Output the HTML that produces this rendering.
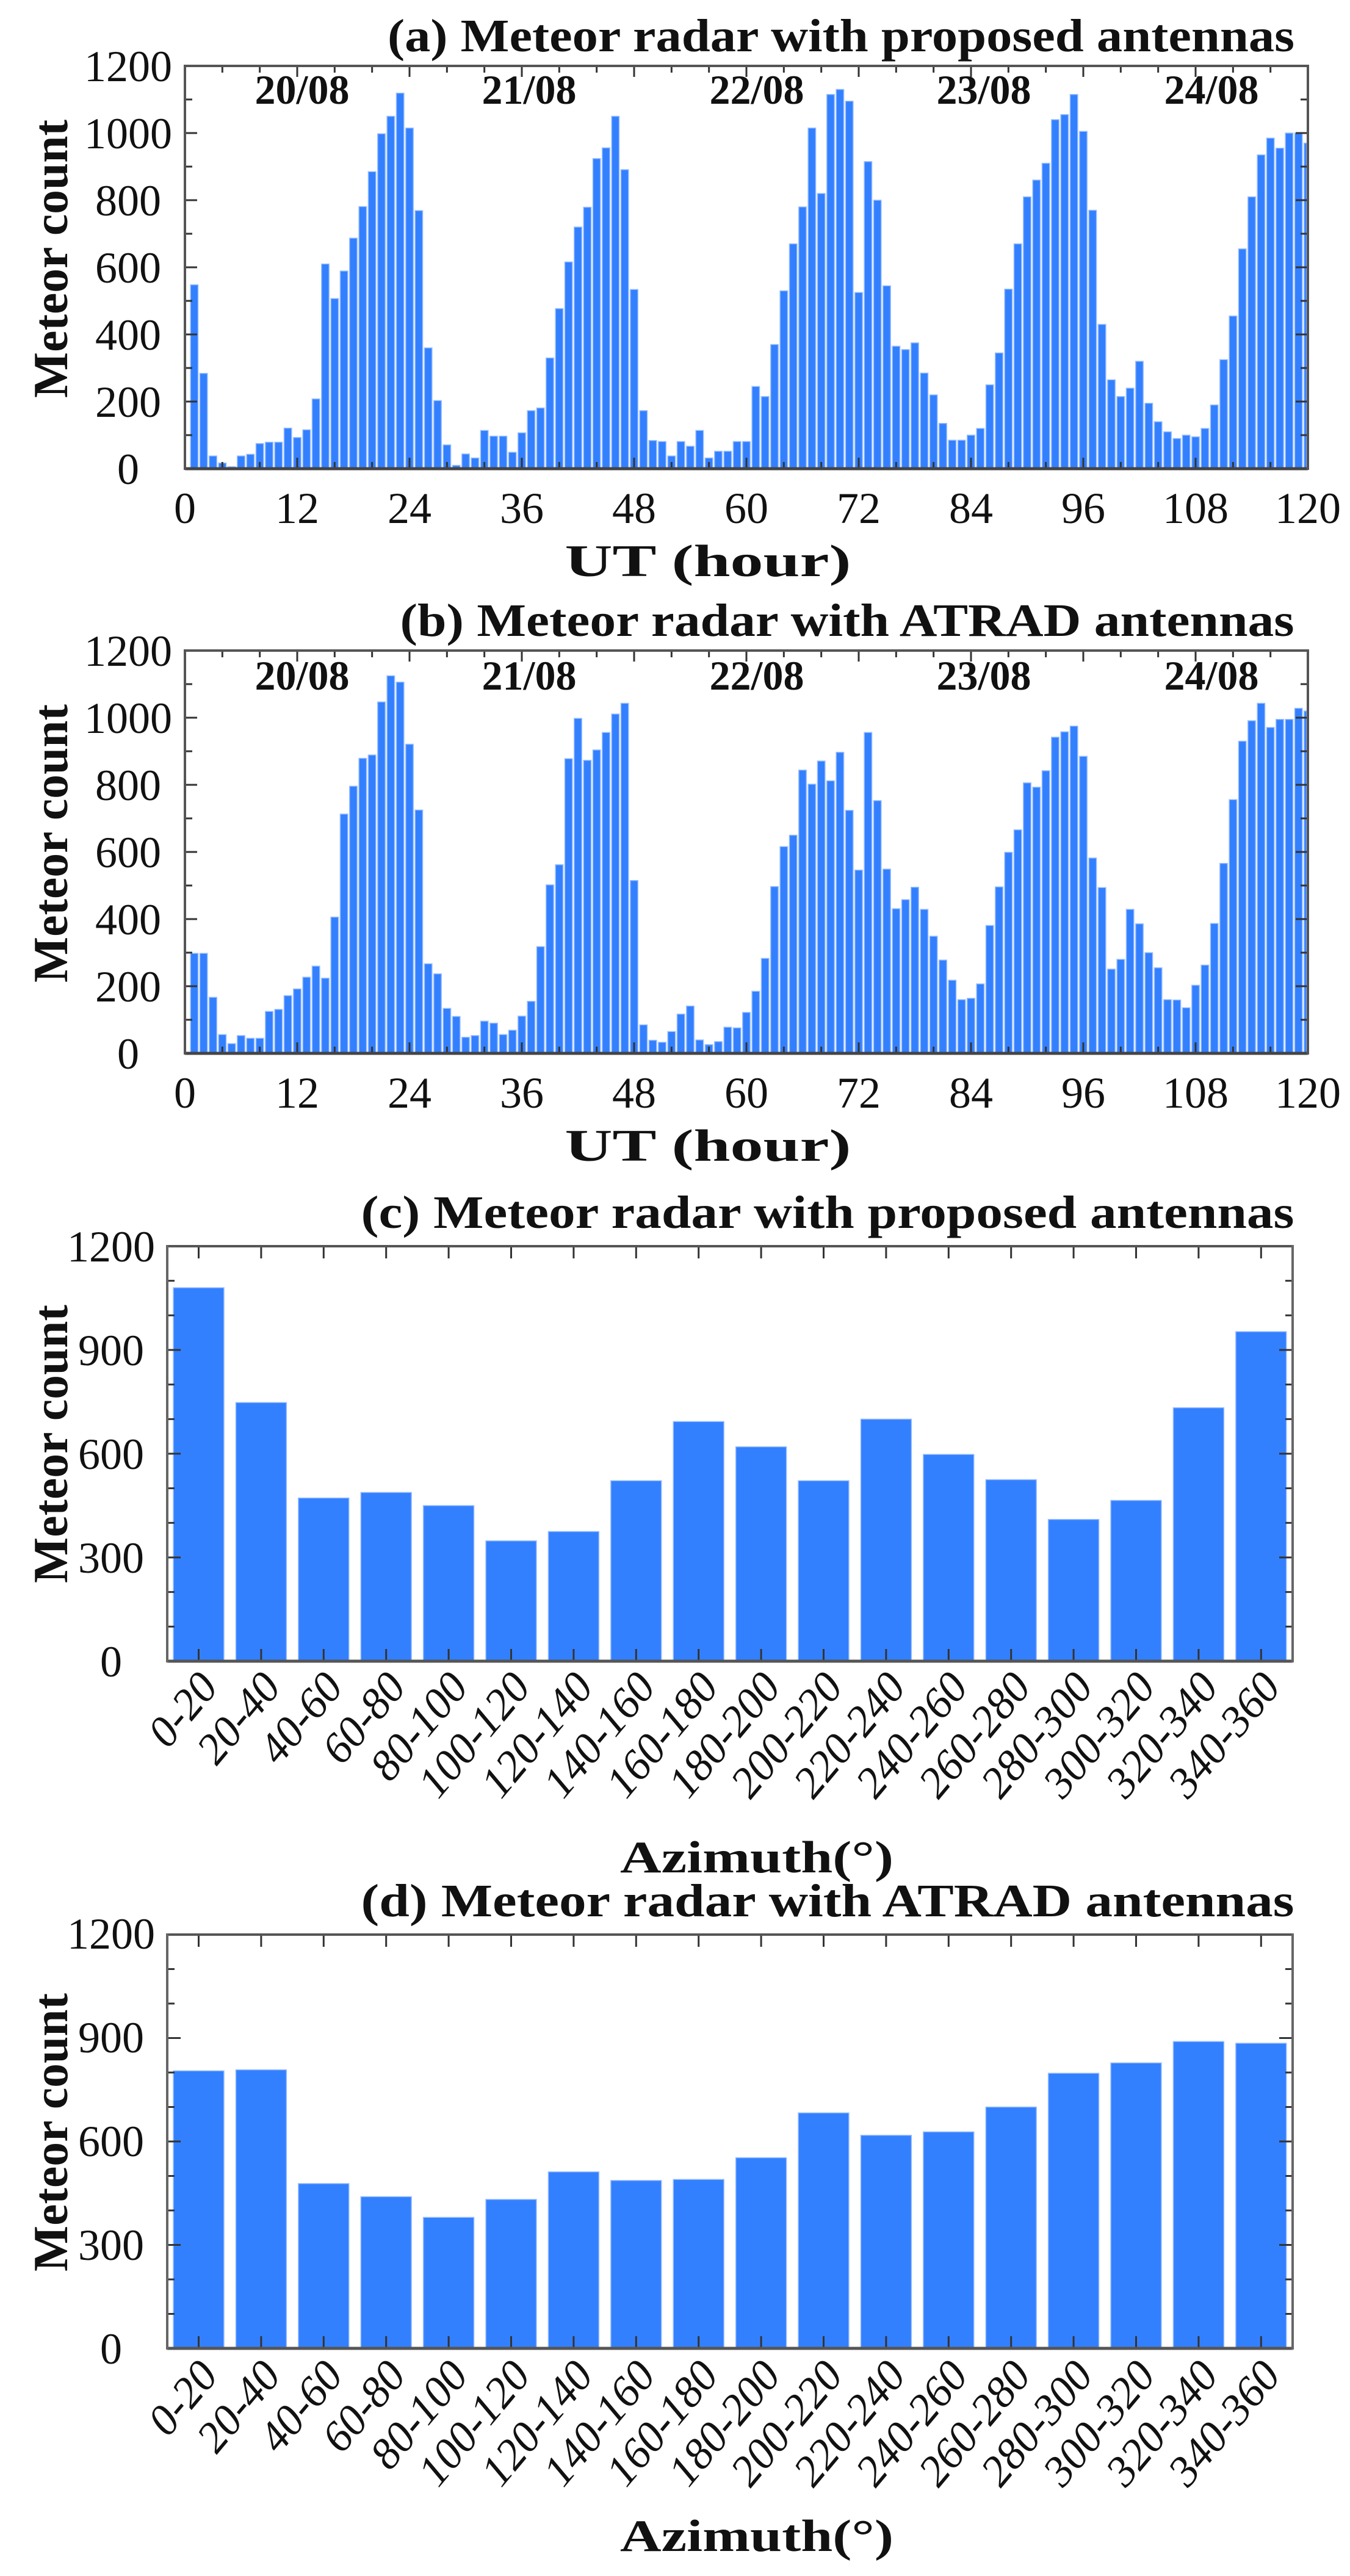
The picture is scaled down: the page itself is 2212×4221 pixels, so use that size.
<!DOCTYPE html>
<html><head><meta charset="utf-8"><style>
html,body{margin:0;padding:0;background:#fff}
svg{display:block}
text{font-family:"Liberation Serif",serif;fill:#111}
.t{font-weight:bold;font-size:76px}
.yl{font-size:72px;text-anchor:middle}
.xl{font-size:72px;text-anchor:middle}
.ax{font-weight:bold;font-size:74px;text-anchor:middle}
.mc{font-weight:bold;font-size:80px;text-anchor:middle}
.dt{font-weight:bold;font-size:68px;text-anchor:middle}
.rl{font-size:72px;font-style:italic;text-anchor:end}
</style></head><body>
<svg id="s" width="2212" height="4221" viewBox="0 0 2212 4221" xmlns="http://www.w3.org/2000/svg">
<rect width="2212" height="4221" fill="#fff"/>
<g id="bars"></g>
<g id="ticks" stroke="#333" fill="none"></g>

<!-- (a) -->
<text class="t" x="1378" y="84" text-anchor="middle" textLength="1486" lengthAdjust="spacingAndGlyphs">(a) Meteor radar with proposed antennas</text>
<text class="yl" x="210" y="793">0</text><text class="yl" x="210" y="683">200</text><text class="yl" x="210" y="573">400</text><text class="yl" x="210" y="463">600</text><text class="yl" x="210" y="353">800</text><text class="yl" x="210" y="243">1000</text><text class="yl" x="210" y="133">1200</text>
<text class="xl" x="303" y="857">0</text><text class="xl" x="487" y="857">12</text><text class="xl" x="671" y="857">24</text><text class="xl" x="855" y="857">36</text><text class="xl" x="1039" y="857">48</text><text class="xl" x="1223" y="857">60</text><text class="xl" x="1407" y="857">72</text><text class="xl" x="1591" y="857">84</text><text class="xl" x="1775" y="857">96</text><text class="xl" x="1959" y="857">108</text><text class="xl" x="2143" y="857">120</text>
<text class="ax" x="1160" y="944" textLength="469" lengthAdjust="spacingAndGlyphs">UT (hour)</text>
<text class="mc" transform="translate(110,424) rotate(-90)" textLength="456" lengthAdjust="spacingAndGlyphs">Meteor count</text>
<text class="dt" x="495" y="170">20/08</text><text class="dt" x="867" y="170">21/08</text><text class="dt" x="1240" y="170">22/08</text><text class="dt" x="1612" y="170">23/08</text><text class="dt" x="1985" y="170">24/08</text>

<!-- (b) -->
<text class="t" x="1388" y="1042" text-anchor="middle" textLength="1465" lengthAdjust="spacingAndGlyphs">(b) Meteor radar with ATRAD antennas</text>
<text class="yl" x="210" y="1751">0</text><text class="yl" x="210" y="1641">200</text><text class="yl" x="210" y="1531">400</text><text class="yl" x="210" y="1421">600</text><text class="yl" x="210" y="1311">800</text><text class="yl" x="210" y="1201">1000</text><text class="yl" x="210" y="1091">1200</text>
<text class="xl" x="303" y="1815">0</text><text class="xl" x="487" y="1815">12</text><text class="xl" x="671" y="1815">24</text><text class="xl" x="855" y="1815">36</text><text class="xl" x="1039" y="1815">48</text><text class="xl" x="1223" y="1815">60</text><text class="xl" x="1407" y="1815">72</text><text class="xl" x="1591" y="1815">84</text><text class="xl" x="1775" y="1815">96</text><text class="xl" x="1959" y="1815">108</text><text class="xl" x="2143" y="1815">120</text>
<text class="ax" x="1160" y="1902" textLength="469" lengthAdjust="spacingAndGlyphs">UT (hour)</text>
<text class="mc" transform="translate(110,1382) rotate(-90)" textLength="456" lengthAdjust="spacingAndGlyphs">Meteor count</text>
<text class="dt" x="495" y="1130">20/08</text><text class="dt" x="867" y="1130">21/08</text><text class="dt" x="1240" y="1130">22/08</text><text class="dt" x="1612" y="1130">23/08</text><text class="dt" x="1985" y="1130">24/08</text>

<!-- (c) -->
<text class="t" x="1356" y="2012" text-anchor="middle" textLength="1529" lengthAdjust="spacingAndGlyphs">(c) Meteor radar with proposed antennas</text>
<text class="yl" x="182" y="2747">0</text><text class="yl" x="182" y="2577">300</text><text class="yl" x="182" y="2407">600</text><text class="yl" x="182" y="2237">900</text><text class="yl" x="182" y="2067">1200</text>
<text class="mc" transform="translate(110,2366) rotate(-90)" textLength="456" lengthAdjust="spacingAndGlyphs">Meteor count</text>
<text class="ax" x="1240" y="3068" textLength="448" lengthAdjust="spacingAndGlyphs">Azimuth(°)</text>
<g>
<text class="rl" transform="translate(360,2766) rotate(-50)">0-20</text>
<text class="rl" transform="translate(463,2766) rotate(-50)">20-40</text>
<text class="rl" transform="translate(565,2766) rotate(-50)">40-60</text>
<text class="rl" transform="translate(668,2766) rotate(-50)">60-80</text>
<text class="rl" transform="translate(770,2766) rotate(-50)">80-100</text>
<text class="rl" transform="translate(872,2766) rotate(-50)">100-120</text>
<text class="rl" transform="translate(975,2766) rotate(-50)">120-140</text>
<text class="rl" transform="translate(1077,2766) rotate(-50)">140-160</text>
<text class="rl" transform="translate(1180,2766) rotate(-50)">160-180</text>
<text class="rl" transform="translate(1282,2766) rotate(-50)">180-200</text>
<text class="rl" transform="translate(1384,2766) rotate(-50)">200-220</text>
<text class="rl" transform="translate(1487,2766) rotate(-50)">220-240</text>
<text class="rl" transform="translate(1589,2766) rotate(-50)">240-260</text>
<text class="rl" transform="translate(1692,2766) rotate(-50)">260-280</text>
<text class="rl" transform="translate(1794,2766) rotate(-50)">280-300</text>
<text class="rl" transform="translate(1896,2766) rotate(-50)">300-320</text>
<text class="rl" transform="translate(1999,2766) rotate(-50)">320-340</text>
<text class="rl" transform="translate(2101,2766) rotate(-50)">340-360</text>
</g>

<!-- (d) -->
<text class="t" x="1356" y="3140" text-anchor="middle" textLength="1529" lengthAdjust="spacingAndGlyphs">(d) Meteor radar with ATRAD antennas</text>
<text class="yl" x="182" y="3873">0</text><text class="yl" x="182" y="3703">300</text><text class="yl" x="182" y="3533">600</text><text class="yl" x="182" y="3363">900</text><text class="yl" x="182" y="3193">1200</text>
<text class="mc" transform="translate(110,3494) rotate(-90)" textLength="456" lengthAdjust="spacingAndGlyphs">Meteor count</text>
<text class="ax" x="1240" y="4180" textLength="448" lengthAdjust="spacingAndGlyphs">Azimuth(°)</text>
<g>
<text class="rl" transform="translate(360,3894) rotate(-50)">0-20</text>
<text class="rl" transform="translate(463,3894) rotate(-50)">20-40</text>
<text class="rl" transform="translate(565,3894) rotate(-50)">40-60</text>
<text class="rl" transform="translate(668,3894) rotate(-50)">60-80</text>
<text class="rl" transform="translate(770,3894) rotate(-50)">80-100</text>
<text class="rl" transform="translate(872,3894) rotate(-50)">100-120</text>
<text class="rl" transform="translate(975,3894) rotate(-50)">120-140</text>
<text class="rl" transform="translate(1077,3894) rotate(-50)">140-160</text>
<text class="rl" transform="translate(1180,3894) rotate(-50)">160-180</text>
<text class="rl" transform="translate(1282,3894) rotate(-50)">180-200</text>
<text class="rl" transform="translate(1384,3894) rotate(-50)">200-220</text>
<text class="rl" transform="translate(1487,3894) rotate(-50)">220-240</text>
<text class="rl" transform="translate(1589,3894) rotate(-50)">240-260</text>
<text class="rl" transform="translate(1692,3894) rotate(-50)">260-280</text>
<text class="rl" transform="translate(1794,3894) rotate(-50)">280-300</text>
<text class="rl" transform="translate(1896,3894) rotate(-50)">300-320</text>
<text class="rl" transform="translate(1999,3894) rotate(-50)">320-340</text>
<text class="rl" transform="translate(2101,3894) rotate(-50)">340-360</text>
</g>
</svg>
<script>
(function(){
var NS="http://www.w3.org/2000/svg";
var bars=document.getElementById("bars"),ticks=document.getElementById("ticks");
function R(x,y,w,h){var r=document.createElementNS(NS,"rect");r.setAttribute("x",x);r.setAttribute("y",y);r.setAttribute("width",w);r.setAttribute("height",h);r.setAttribute("fill","#3380ff");r.setAttribute("stroke","#9cc0ff");r.setAttribute("stroke-width","1.5");bars.appendChild(r);}
function L(x1,y1,x2,y2,w,c){var l=document.createElementNS(NS,"line");l.setAttribute("x1",x1);l.setAttribute("y1",y1);l.setAttribute("x2",x2);l.setAttribute("y2",y2);l.setAttribute("stroke-width",w||3);if(c)l.setAttribute("stroke",c);ticks.appendChild(l);}
var A=[548,284,38,17,6,38,43,75,79,79,121,93,116,208,610,507,589,687,781,885,998,1050,1119,1015,769,360,203,71,10,44,32,114,97,97,49,107,173,181,330,477,616,720,779,924,956,1050,891,534,173,84,81,38,81,67,114,32,52,52,81,81,
245,215,370,530,670,780,1015,820,1115,1130,1095,525,915,800,545,365,355,375,285,220,135,85,85,100,120,250,345,535,670,810,860,910,1040,1055,1115,1005,770,430,265,215,240,320,195,140,110,90,100,95,120,190,325,455,655,810,935,985,955,1000,1000,970];
var B=[298,298,167,56,29,53,45,45,125,131,172,192,227,260,224,406,713,796,879,889,1047,1125,1106,921,725,267,237,134,110,48,53,96,90,56,69,111,155,318,502,562,878,998,873,904,956,1011,1043,515,85,39,33,65,117,141,40,26,35,78,76,122,
185,283,497,616,650,844,802,871,812,897,724,546,956,753,549,431,458,495,429,349,278,218,160,164,207,381,496,599,666,806,793,842,942,958,975,885,582,494,251,280,429,386,300,255,160,159,136,203,263,387,566,756,930,991,1043,971,995,995,1028,1020];
function hist(D,top,bot){
 var L0=303,R0=2143,s=(R0-L0)/120,k=(bot-top)/1200;
 for(var i=0;i<120;i++){var c=L0+s*(i+1),w=12.5,x=c-w/2;if(x+w>R0-2)w=R0-2-x;var h=D[i]*k;R(x,bot-h,w,h);}
 for(var h2=4;h2<120;h2+=4){var x=L0+s*h2,len=(h2%12==0)?18:11;L(x,top,x,top+len,3);L(x,bot,x,bot-len,3);}
 for(var v=100;v<1200;v+=100){var y=bot-v*k,len=(v%200==0)?20:12;L(L0,y,L0+len,y,3);L(R0,y,R0-len,y,3);}
 L(L0,top,R0,top,4,"#555");L(L0,bot,R0,bot,5,"#444");L(L0,top-2,L0,bot+2,4,"#555");L(R0,top-2,R0,bot+2,4,"#555");
}
hist(A,108,768);hist(B,1066,1726);
var C=[1080,748,472,488,450,348,375,522,693,620,522,700,598,525,410,465,733,953];
var Dd=[805,808,478,440,380,432,512,487,490,553,683,618,628,700,798,828,890,885];
function az(D,top,bot){
 var L0=274,R0=2118,p=102.4,k=(bot-top)/1200;
 for(var i=0;i<18;i++){var x=L0+10+i*p,h=D[i]*k;R(x,bot-h,83,h);}
 for(var i=0;i<18;i++){var c=L0+51.5+i*p;L(c,top,c,top+20,3);L(c,bot,c,bot-20,3);}
 for(var v=100;v<1200;v+=100){var y=bot-v*k,len=(v%300==0)?22:12;L(L0,y,L0+len,y,3);L(R0,y,R0-len,y,3);}
 L(L0,top,R0,top,4,"#555");L(L0,bot,R0,bot,5,"#555");L(L0,top-2,L0,bot+2,4,"#666");L(R0,top-2,R0,bot+2,4,"#666");
}
az(C,2042,2722);az(Dd,3170,3848);
})();
</script>
</body></html>
